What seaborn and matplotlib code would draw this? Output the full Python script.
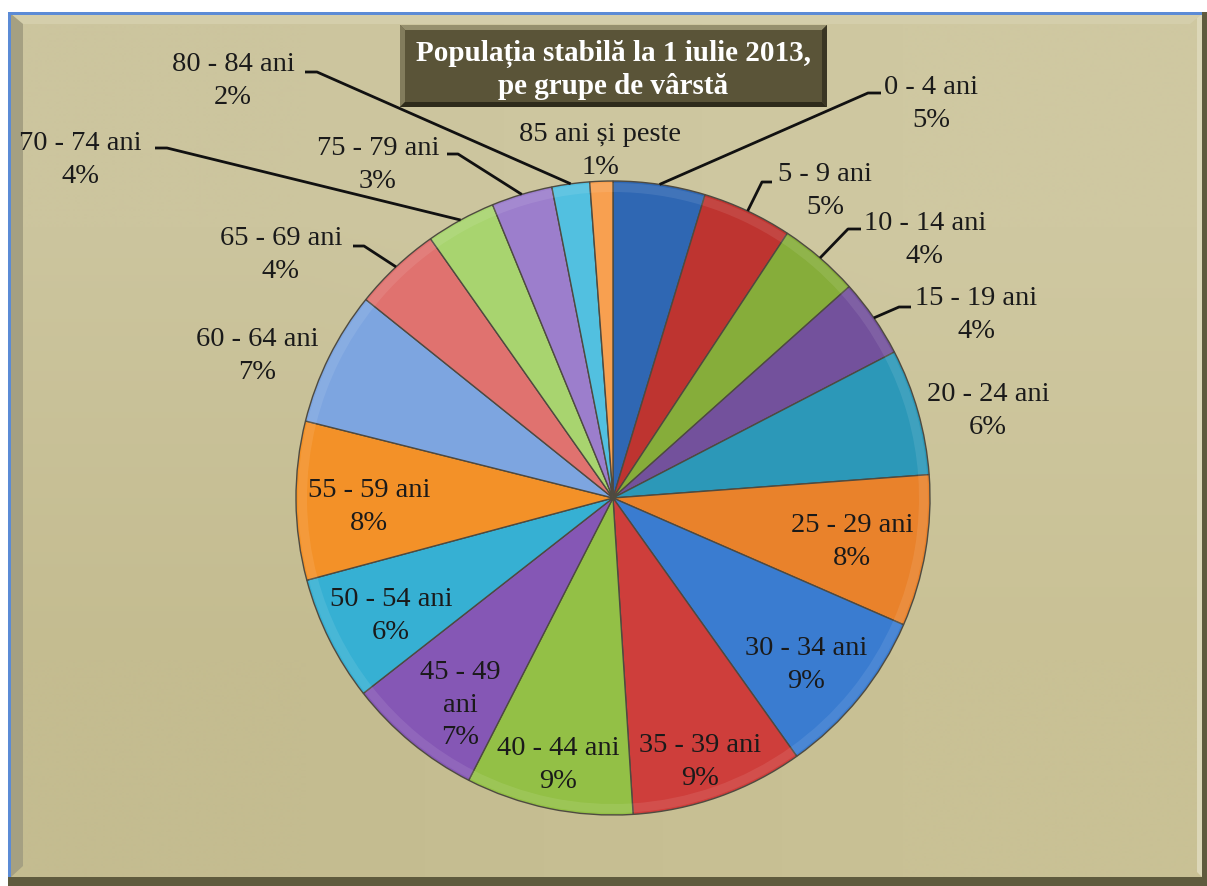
import numpy as np
import matplotlib
matplotlib.use("Agg")
import matplotlib.pyplot as plt
import matplotlib.colors as mcolors
import seaborn as sns
from matplotlib.patches import Polygon, Rectangle

# canvas size in pixels
W, H = 1207, 886

# data (share of population, %)
age_groups = ['0 - 4 ani', '5 - 9 ani', '10 - 14 ani', '15 - 19 ani', '20 - 24 ani',
              '25 - 29 ani', '30 - 34 ani', '35 - 39 ani', '40 - 44 ani', '45 - 49\nani',
              '50 - 54 ani', '55 - 59 ani', '60 - 64 ani', '65 - 69 ani', '70 - 74 ani',
              '75 - 79 ani', '80 - 84 ani', '85 ani și peste']
shares = [4.69, 4.58, 4.11, 4.00, 6.44, 7.72, 8.61, 8.83, 8.53, 6.91,
          6.39, 8.08, 6.86, 4.47, 3.56, 3.11, 1.92, 1.17]
slice_colors = ['#2F67B3', '#BE3430', '#86AD3A', '#73519C', '#2C98B8', '#E9822B',
                '#3A7CD0', '#CE3E3B', '#93C046', '#8557B5', '#36B0D3', '#F39128',
                '#7DA5E0', '#E0726F', '#A8D46F', '#9C7ECC', '#52C0E0', '#F8A050']
title = 'Populația stabilă la 1 iulie 2013,\npe grupe de vârstă'

# layout (pixel positions, y downwards)
label_pos = [(931, 104), (825, 191), (925, 240), (976, 315), (988, 411),
             (852, 542), (806, 665), (700, 762), (558, 765), (460, 705),
             (391, 616), (369, 507), (257, 356), (281, 255), (80, 160),
             (378, 165), (233, 81), (600, 151)]
leader_knees = {0: [(881, 93), (868, 93)], 1: [(772, 182), (762, 182)],
                2: [(861, 229), (848, 229)], 3: [(911, 307), (899, 307)],
                13: [(353, 246), (364, 246)], 14: [(155, 148), (167, 148)],
                15: [(447, 154), (458, 154)], 16: [(305, 72), (317, 72)]}
PIE_C = (613, 498)
PIE_R = 317


def P(x, y):
    return (x, H - y)


sns.set_theme(style="white")
plt.rcParams['font.family'] = ['Liberation Serif', 'DejaVu Serif']

fig = plt.figure(figsize=(W / 100, H / 100), dpi=100)
fig.patch.set_facecolor('white')
ax = fig.add_axes([0, 0, 1, 1])

# frame: dark outer band (bottom/right), gradient face, bevel bands
ax.add_patch(Rectangle(P(8, 886), 1199, 874, fc='#5F5B3E', ec='none', zorder=0))
corners = np.array([[mcolors.to_rgb('#CCC59E'), mcolors.to_rgb('#CFC8A1')],
                    [mcolors.to_rgb('#C4BC90'), mcolors.to_rgb('#C9C195')]])
ax.imshow(corners, extent=(8, 1202, H - 877, H - 12), interpolation='bilinear',
          origin='upper', zorder=0.5, aspect='auto')
ax.add_patch(Polygon([P(11, 14), P(1202, 14), P(1190, 24), P(23, 24)],
                     fc='#D4CEAB', ec='none', zorder=0.6))
ax.add_patch(Polygon([P(11, 14), P(23, 24), P(23, 866), P(11, 877)],
                     fc='#A5A082', ec='none', zorder=0.6))
ax.add_patch(Polygon([P(1202, 14), P(1202, 877), P(1197, 872), P(1197, 18)],
                     fc='#DCD7B8', ec='none', zorder=0.6))
ax.add_patch(Rectangle(P(8, 877), 3, 865, fc='#5B8BD6', ec='none', zorder=0.7))
ax.add_patch(Rectangle(P(8, 15), 1194, 3, fc='#5B8BD6', ec='none', zorder=0.7))

# pie
cx, cy = P(*PIE_C)
wedges, _ = ax.pie(shares, colors=sns.color_palette(slice_colors), startangle=90,
                   counterclock=False, center=(cx, cy), radius=PIE_R, frame=True,
                   wedgeprops=dict(edgecolor='#4E4A40', linewidth=1.0))
for w in wedges:
    w.set_zorder(2)
rim, _ = ax.pie(shares, colors=['white'] * len(shares), startangle=90,
                counterclock=False, center=(cx, cy), radius=PIE_R - 2, frame=True,
                wedgeprops=dict(width=9, alpha=0.09, linewidth=0))
for w in rim:
    w.set_zorder(2.1)

# labels and leader lines
total = sum(shares)
for i, (grp, v) in enumerate(zip(age_groups, shares)):
    x, y = P(*label_pos[i])
    ax.text(x, y, f'{grp}\n{v / total * 100:.0f}%', ha='center', va='center',
            fontsize=20.5, color='#1A1A1A', linespacing=1.42, zorder=4)
    if i in leader_knees:
        w = wedges[i]
        ang = np.deg2rad((w.theta1 + w.theta2) / 2)
        tip = (cx + PIE_R * np.cos(ang), cy + PIE_R * np.sin(ang))
        pts = [P(*p) for p in leader_knees[i]] + [tip]
        ax.plot([p[0] for p in pts], [p[1] for p in pts], color='#111111',
                lw=2.0, zorder=3, solid_capstyle='butt')

# title box with bevel
bx0, by0, bx1, by1 = 400, 25, 827, 107
ax.add_patch(Rectangle(P(bx0, by1), bx1 - bx0, by1 - by0, fc='#5A5438', ec='none', zorder=5))
b = 5
ax.add_patch(Polygon([P(bx0, by0), P(bx1, by0), P(bx1 - b, by0 + b), P(bx0 + b, by0 + b)],
                     fc='#96906E', ec='none', zorder=5.1))
ax.add_patch(Polygon([P(bx0, by0), P(bx0 + b, by0 + b), P(bx0 + b, by1 - b), P(bx0, by1)],
                     fc='#827C5C', ec='none', zorder=5.1))
ax.add_patch(Polygon([P(bx0, by1), P(bx0 + b, by1 - b), P(bx1 - b, by1 - b), P(bx1, by1)],
                     fc='#2E2B1B', ec='none', zorder=5.1))
ax.add_patch(Polygon([P(bx1, by0), P(bx1, by1), P(bx1 - b, by1 - b), P(bx1 - b, by0 + b)],
                     fc='#3A3624', ec='none', zorder=5.1))
tx, ty = P((bx0 + bx1) / 2, 70)
ax.text(tx, ty, title, ha='center', va='center', fontsize=21, fontweight='bold',
        color='white', linespacing=1.2, zorder=6)

ax.set_xlim(0, W)
ax.set_ylim(0, H)
ax.set_aspect('equal')
ax.axis('off')

fig.savefig('out.png', dpi=100, facecolor=fig.get_facecolor())
